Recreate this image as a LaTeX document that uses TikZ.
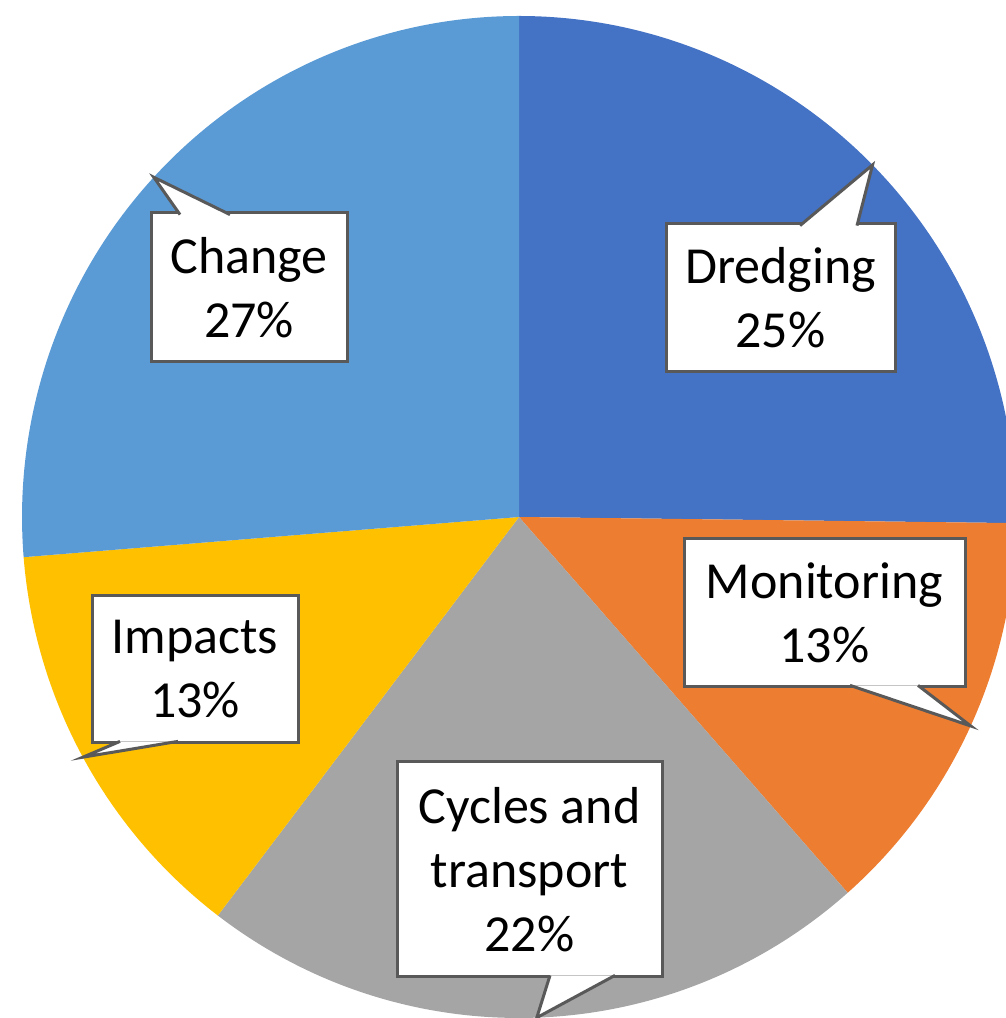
\documentclass[tikz,border=0pt]{standalone}
\usepackage{fontspec}
\setmainfont{Carlito}
\usepackage{xcolor}
\usetikzlibrary{calc}
\definecolor{dredgingblue}{HTML}{4472C4}
\definecolor{monitoringorange}{HTML}{ED7D31}
\definecolor{cyclesgray}{HTML}{A5A5A5}
\definecolor{impactsgold}{HTML}{FFC000}
\definecolor{changeblue}{HTML}{5B9BD5}
\definecolor{boxgray}{HTML}{595959}

\begin{document}
\begin{tikzpicture}[
    x=0.5pt, y=0.5pt,
    labelbox/.style={draw=boxgray, line width=1.5pt, fill=white, inner sep=0pt, outer sep=0pt,
        align=center, font=\fontsize{26}{32}\selectfont},
    pointer/.style={draw=boxgray, line width=1.5pt, fill=white, line join=miter}]
    \useasboundingbox (0,0) rectangle (1006,1018);
    \clip (0,0) rectangle (1006,1018);
    \coordinate (pie) at (519,501);
    \fill[dredgingblue] (pie) -- ++(-0.7:248.5pt and 250.5pt)
        arc[start angle=-0.7, end angle=90, x radius=248.5pt, y radius=250.5pt] -- cycle;
    \fill[monitoringorange] (pie) -- ++(-48.6:248.5pt and 250.5pt)
        arc[start angle=-48.6, end angle=-0.7, x radius=248.5pt, y radius=250.5pt] -- cycle;
    \fill[cyclesgray] (pie) -- ++(-127.3:248.5pt and 250.5pt)
        arc[start angle=-127.3, end angle=-48.6, x radius=248.5pt, y radius=250.5pt] -- cycle;
    \fill[impactsgold] (pie) -- ++(-175.4:248.5pt and 250.5pt)
        arc[start angle=-175.4, end angle=-127.3, x radius=248.5pt, y radius=250.5pt] -- cycle;
    \fill[changeblue] (pie) -- ++(90:248.5pt and 250.5pt)
        arc[start angle=90, end angle=184.6, x radius=248.5pt, y radius=250.5pt] -- cycle;
    \coordinate (dredging tip) at ($(pie)+(44.65:248.5pt and 250.5pt)$);
    \coordinate (monitoring tip) at ($(pie)+(-24.65:248.5pt and 250.5pt)$);
    \coordinate (cycles tip) at ($(pie)+(-87.95:248.5pt and 250.5pt)$);
    \coordinate (impacts tip) at ($(pie)+(-151.35:248.5pt and 250.5pt)$);
    \coordinate (change tip) at ($(pie)+(137.3:248.5pt and 250.5pt)$);
    \node[labelbox, minimum width=114.5pt, minimum height=74pt] (dredging) at (780.5,720) {Dredging\\25\%};
    \node[labelbox, minimum width=140.5pt, minimum height=74pt] (monitoring) at (824.5,405) {Monitoring\\13\%};
    \node[labelbox, minimum width=132.5pt, minimum height=107.5pt] (cycles) at (529.5,148.5) {Cycles and\\transport\\22\%};
    \node[labelbox, minimum width=103pt, minimum height=73.5pt] (impacts) at (195,348.5) {Impacts\\13\%};
    \node[labelbox, minimum width=98pt, minimum height=74.5pt] (change) at (249,730.5) {Change\\27\%};
    \filldraw[pointer] ($(dredging.north west)+(134,-1.6)$) -- (dredging tip) -- ($(dredging.north west)+(191,-1.6)$);
    \filldraw[pointer] ($(monitoring.south west)+(166,1.6)$) -- (monitoring tip) -- ($(monitoring.south west)+(234,1.6)$);
    \filldraw[pointer] ($(cycles.south west)+(153,1.6)$) -- (cycles tip) -- ($(cycles.south west)+(218,1.6)$);
    \filldraw[pointer] ($(impacts.south west)+(28,1.6)$) -- (impacts tip) -- ($(impacts.south west)+(86,1.6)$);
    \filldraw[pointer] ($(change.north west)+(29,-1.6)$) -- (change tip) -- ($(change.north west)+(79,-1.6)$);
\end{tikzpicture}
\end{document}
